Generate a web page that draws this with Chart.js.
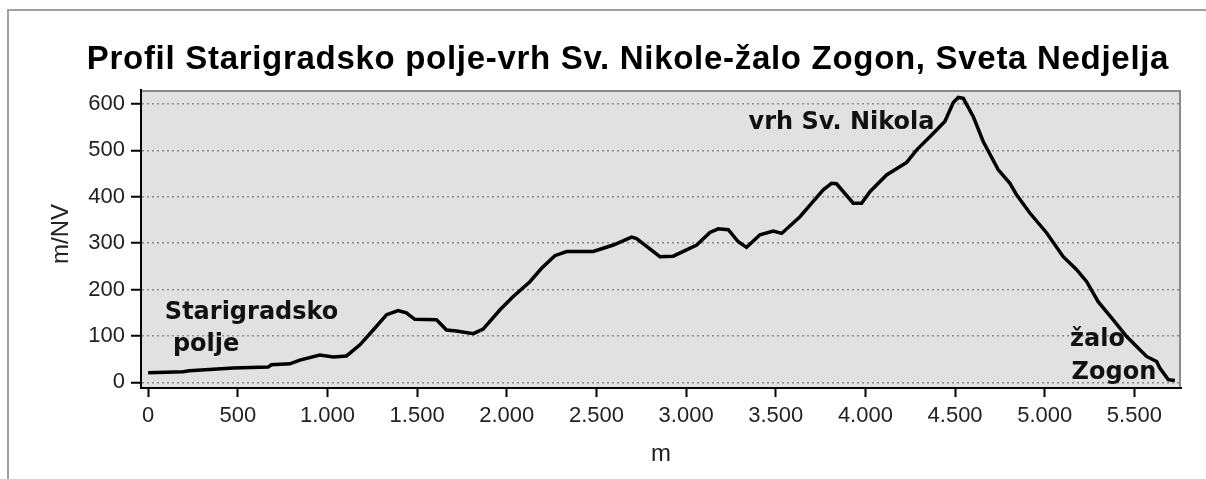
<!DOCTYPE html>
<html>
<head>
<meta charset="utf-8">
<script src="https://cdn.jsdelivr.net/npm/chart.js@4.4.1/dist/chart.umd.min.js"></script>
<style>
  html, body { margin: 0; padding: 0; background: #ffffff; }
  #wrap { position: relative; width: 1206px; height: 479px; }
  #frame { position: absolute; left: 7px; top: 9px; width: 1199px; height: 470px;
           border-top: 2px solid #a0a0a0; border-left: 2px solid #a0a0a0; box-sizing: border-box; pointer-events: none; }
  canvas { position: absolute; left: 0; top: 0; }
</style>
</head>
<body>
<div id="wrap">
  <canvas id="c" width="1206" height="479"></canvas>
  <div id="frame"></div>
</div>
<script>
// Distance along the profile (m)
const distance = [0, 195, 230, 474, 669, 687, 790, 846, 957, 1032, 1106, 1181, 1255, 1330, 1394, 1440, 1487, 1608, 1664, 1719, 1813, 1868, 1961, 2036, 2129, 2194, 2268, 2334, 2482, 2594, 2696, 2724, 2780, 2854, 2928, 3059, 3133, 3179, 3235, 3291, 3337, 3412, 3486, 3533, 3635, 3709, 3765, 3811, 3839, 3932, 3979, 4025, 4118, 4230, 4286, 4379, 4443, 4490, 4518, 4546, 4601, 4657, 4741, 4806, 4843, 4917, 5011, 5103, 5178, 5234, 5298, 5382, 5457, 5568, 5624, 5642, 5689, 5726];
// Elevation (m/NV)
const elevation = [21, 23, 25, 31, 33, 38, 40, 48, 59, 55, 57, 81, 113, 146, 155, 150, 136, 135, 113, 111, 105, 115, 156, 185, 217, 246, 273, 282, 282, 296, 313, 310, 293, 271, 272, 296, 323, 331, 329, 303, 291, 318, 326, 321, 357, 390, 415, 429, 428, 386, 386, 411, 447, 474, 501, 537, 562, 603, 614, 612, 573, 519, 458, 429, 404, 365, 322, 271, 243, 217, 174, 135, 99, 56, 45, 31, 6, 4];

const xTickValues = [0, 500, 1000, 1500, 2000, 2500, 3000, 3500, 4000, 4500, 5000, 5500];
const xTickLabels = ["0", "500", "1.000", "1.500", "2.000", "2.500", "3.000", "3.500", "4.000", "4.500", "5.000", "5.500"];
const yTickValues = [0, 100, 200, 300, 400, 500, 600];
const yTickLabels = ["0", "100", "200", "300", "400", "500", "600"];

const titleText = "Profil Starigradsko polje-vrh Sv. Nikole-žalo Zogon, Sveta Nedjelja";
const xAxisTitle = "m";
const yAxisTitle = "m/NV";

// Place-name labels: text, anchor (distance, elevation) of the baseline, alignment
const placeLabels = [
  { text: "Starigradsko", at: [93, 137], align: 'left' },
  { text: "polje", at: [138, 68], align: 'left' },
  { text: "vrh Sv. Nikola", at: [4385, 546], align: 'right' },
  { text: "žalo", at: [5141, 78], align: 'left' },
  { text: "Zogon", at: [5150, 8], align: 'left' }
];

const plotBg = {
  id: 'plotBg',
  beforeDraw(chart) {
    const { ctx, chartArea: a } = chart;
    ctx.save();
    ctx.fillStyle = '#e1e1e1';
    ctx.fillRect(a.left, a.top, a.right - a.left, a.bottom - a.top);
    ctx.strokeStyle = '#8a8a8a';
    ctx.lineWidth = 2;
    ctx.beginPath();
    ctx.moveTo(a.left, a.top + 1);
    ctx.lineTo(a.right - 1, a.top + 1);
    ctx.lineTo(a.right - 1, a.bottom);
    ctx.stroke();
    ctx.restore();
  },
  afterDraw(chart) {
    const { ctx, scales } = chart;
    ctx.save();
    // chart title
    ctx.fillStyle = '#000';
    ctx.font = 'bold 33px "Liberation Sans", Arial, sans-serif';
    ctx.letterSpacing = '0.7px';
    ctx.textAlign = 'center';
    ctx.textBaseline = 'alphabetic';
    ctx.fillText(titleText, 628, 69);
    ctx.letterSpacing = '0px';
    // place names
    ctx.fillStyle = '#111';
    ctx.font = 'bold 24px "DejaVu Sans", Verdana, sans-serif';
    placeLabels.forEach(l => {
      ctx.textAlign = l.align;
      ctx.fillText(l.text, scales.x.getPixelForValue(l.at[0]), scales.y.getPixelForValue(l.at[1]));
    });
    // rotated y-axis title
    ctx.translate(61, 234);
    ctx.rotate(-Math.PI / 2);
    ctx.textAlign = 'center';
    ctx.textBaseline = 'middle';
    ctx.fillStyle = '#222';
    ctx.font = '24px "Liberation Sans", Arial, sans-serif';
    ctx.fillText(yAxisTitle, 0, 0);
    ctx.restore();
  }
};

new Chart(document.getElementById('c'), {
  type: 'line',
  data: {
    datasets: [{
      data: distance.map((d, i) => ({ x: d, y: elevation[i] })),
      borderColor: '#000',
      borderWidth: 3.5,
      pointRadius: 0,
      tension: 0,
      fill: false
    }]
  },
  options: {
    responsive: false,
    animation: false,
    devicePixelRatio: 1,
    layout: { padding: { left: 0, right: 25, top: 90, bottom: 0 } },
    plugins: {
      legend: { display: false },
      tooltip: { enabled: false },
      title: { display: false }
    },
    scales: {
      x: {
        type: 'linear',
        min: -40, max: 5760,
        afterBuildTicks: s => { s.ticks = xTickValues.map(v => ({ value: v })); },
        afterFit: s => { s.height = 91; },
        ticks: {
          autoSkip: false, maxRotation: 0,
          color: '#222',
          font: { family: '"Liberation Sans", Arial, sans-serif', size: 22 },
          padding: 6,
          callback: (v) => xTickLabels[xTickValues.indexOf(v)]
        },
        grid: { drawOnChartArea: false, drawTicks: true, tickLength: 9, tickColor: '#000', tickWidth: 2 },
        border: { display: true, color: '#000', width: 2 },
        title: { display: true, text: xAxisTitle, color: '#222', font: { family: '"Liberation Sans", Arial, sans-serif', size: 24 }, padding: { top: 2, bottom: 10 } }
      },
      y: {
        type: 'linear',
        min: -12, max: 630,
        afterBuildTicks: s => { s.ticks = yTickValues.map(v => ({ value: v })); },
        afterFit: s => { s.width = 141; },
        ticks: {
          color: '#222',
          font: { family: '"Liberation Sans", Arial, sans-serif', size: 22 },
          padding: 6,
          callback: (v) => yTickLabels[yTickValues.indexOf(v)]
        },
        grid: { drawOnChartArea: true, color: '#8c8c8c', lineWidth: 1.5, drawTicks: true, tickLength: 10, tickColor: '#000', tickWidth: 2, tickBorderDash: [] },
        border: { display: true, color: '#000', width: 2, dash: [2, 3] },
        title: { display: false }
      }
    }
  },
  plugins: [plotBg]
});
</script>
</body>
</html>
